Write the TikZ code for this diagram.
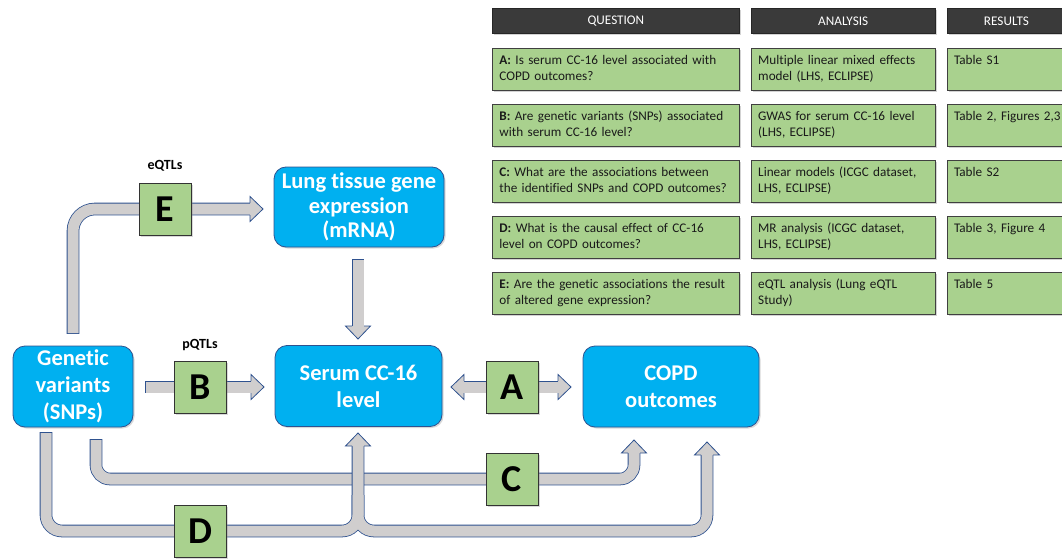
\documentclass[tikz,border=0pt]{standalone}
\usepackage{fontspec}
\setmainfont{Carlito}[Ligatures=NoCommon]
\usetikzlibrary{positioning, calc, shadows, backgrounds}

\definecolor{nodeblue}{HTML}{00B0F0}
\definecolor{edgeblue}{HTML}{2F528F}
\definecolor{cellgreen}{HTML}{A9D18E}
\definecolor{headgray}{HTML}{3A3A3A}
\definecolor{arrowgray}{HTML}{D0CECE}
\definecolor{textdark}{HTML}{1A1A1A}

% block arrow head: base point, direction
\newcommand{\flowhead}[2]{%
  \filldraw[headtip, shift={(#1)}, rotate=#2]
    (0,6) -- (0,12.5) -- (13,0) -- (0,-12.5) -- (0,-6);}

\begin{document}
\begin{tikzpicture}[
  x=1pt, y=-1pt,
  flownode/.style={rectangle, rounded corners=12pt, draw=edgeblue, line width=0.8pt, fill=nodeblue,
    text=white, align=center, inner sep=0pt, font=\fontsize{22.5}{27}\selectfont\bfseries,
    drop shadow={shadow xshift=1.5pt, shadow yshift=-1.5pt, opacity=0.3}},
  letterbox/.style={rectangle, draw=black!80, line width=0.8pt, fill=cellgreen, minimum size=52pt,
    inner sep=0pt, font=\fontsize{38}{40}\selectfont\bfseries,
    drop shadow={shadow xshift=1.5pt, shadow yshift=-1.5pt, opacity=0.3}},
  qtl/.style={font=\fontsize{14}{16}\selectfont\bfseries},
  headcell/.style={rectangle, draw=black!85, line width=0.8pt, fill=headgray, text=white,
    minimum height=25pt, inner sep=0pt, font=\fontsize{13.2}{16.5}\selectfont,
    drop shadow={shadow xshift=2pt, shadow yshift=-2pt, opacity=0.35}},
  cell/.style={rectangle, draw=black!75, line width=0.8pt, fill=cellgreen, text=textdark,
    inner xsep=7pt, inner ysep=0pt, minimum height=42pt, align=left,
    font=\fontsize{13.2}{16.5}\selectfont, execute at begin node=\strut, execute at end node=\strut,
    drop shadow={shadow xshift=2pt, shadow yshift=-2pt, opacity=0.35}},
  qcell/.style={cell, text width=233pt},
  acell/.style={cell, text width=170pt},
  rcell/.style={cell, text width=114pt},
  flowedge/.style={draw=edgeblue, line width=12.6pt, shorten <=-0.8pt},
  flowbody/.style={draw=arrowgray, line width=11pt},
  headtip/.style={fill=arrowgray, draw=edgeblue, line width=0.8pt}
]
\clip (0,0) rectangle (1062,559);

% Table
\node[headcell, anchor=north west, minimum width=247pt] (hQ) at (492,8) {QUESTION};
\node[headcell, right=11pt of hQ, minimum width=184pt] (hA) {ANALYSIS};
\node[headcell, right=11pt of hA, minimum width=119pt] (hR) {RESULTS};

\node[qcell, below=14pt of hQ] (qA) {\textbf{A:} Is serum CC-16 level associated with\\COPD outcomes?};
\node[acell, right=11pt of qA] (aA) {Multiple linear mixed effects\\model (LHS, ECLIPSE)};
\node[rcell, right=11pt of aA] (rA) {Table S1\\};

\node[qcell, below=13.25pt of qA] (qB) {\textbf{B:} Are genetic variants (SNPs) associated\\with serum CC-16 level?};
\node[acell, right=11pt of qB] (aB) {GWAS for serum CC-16 level\\(LHS, ECLIPSE)};
\node[rcell, right=11pt of aB] (rB) {Table 2, Figures 2,3\\};

\node[qcell, below=13.25pt of qB] (qC) {\textbf{C:} What are the associations between\\the identified SNPs and COPD outcomes?};
\node[acell, right=11pt of qC] (aC) {Linear models (ICGC dataset,\\LHS, ECLIPSE)};
\node[rcell, right=11pt of aC] (rC) {Table S2\\};

\node[qcell, below=13.25pt of qC] (qD) {\textbf{D:} What is the causal effect of CC-16\\level on COPD outcomes?};
\node[acell, right=11pt of qD] (aD) {MR analysis (ICGC dataset,\\LHS, ECLIPSE)};
\node[rcell, right=11pt of aD] (rD) {Table 3, Figure 4\\};

\node[qcell, below=13.25pt of qD] (qE) {\textbf{E:} Are the genetic associations the result\\of altered gene expression?};
\node[acell, right=11pt of qE] (aE) {eQTL analysis (Lung eQTL\\Study)};
\node[rcell, right=11pt of aE] (rE) {Table 5\\};

% Flow nodes
\node[flownode, minimum width=120pt, minimum height=81pt] (gen) at (73,386.5) {Genetic\\variants\\(SNPs)};
\node[flownode, minimum width=167pt, minimum height=81pt] (serum) at (358.5,386) {Serum CC-16\\level};
\node[flownode, minimum width=170pt, minimum height=80pt, font=\fontsize{22.5}{24.5}\selectfont\bfseries] (lung) at (359,207) {Lung tissue gene\\expression\\(mRNA)};
\node[flownode, minimum width=176pt, minimum height=81pt] (copd) at (671,386.5) {COPD\\outcomes};

\node[letterbox] (boxE) at (165,209) {E};
\node[letterbox] (boxB) at (200,387) {B};
\node[letterbox] (boxA) at (512,387) {A};
\node[letterbox] (boxC) at (512,479) {C};
\node[letterbox] (boxD) at (200,531) {D};

\node[qtl, above=8pt of boxE] (eqtl) {eQTLs};
\node[qtl, above=6pt of boxB] (pqtl) {pQTLs};

% Arrow ends
\coordinate (eStart) at (73,333);
\coordinate (eEnd) at (250,209);
\coordinate (bStart) at (146,387);
\coordinate (bEnd) at (251,387);
\coordinate (mStart) at (358,260);
\coordinate (mEnd) at (358,326);
\coordinate (aLeft) at (464,387);
\coordinate (aRight) at (558,387);
\coordinate (cStart) at (96,440);
\coordinate (cEnd) at (634,453);
\coordinate (dStart) at (46,433);
\coordinate (dSerum) at (358,446);
\coordinate (dFork) at (358,495);
\coordinate (dCopd) at (707,455);

\begin{scope}[on background layer]
% E: SNPs to mRNA
\draw[flowedge, rounded corners=22pt] (eStart) |- (eEnd);
\draw[flowbody, rounded corners=22pt] (eStart) |- (eEnd);
\flowhead{eEnd}{0}
% B: SNPs to serum level
\draw[flowedge] (bStart) -- (bEnd);
\draw[flowbody] (bStart) -- (bEnd);
\flowhead{bEnd}{0}
% mRNA to serum level
\draw[flowedge] (mStart) -- (mEnd);
\draw[flowbody] (mStart) -- (mEnd);
\flowhead{mEnd}{-90}
% A: serum level and COPD
\draw[flowedge, shorten <=0pt] (aLeft) -- (aRight);
\draw[flowbody] (aLeft) -- (aRight);
\flowhead{aRight}{0}
\flowhead{aLeft}{180}
% C: SNPs to COPD
\draw[flowedge, rounded corners=14pt] (cStart) |- (boxC.center) -| (cEnd);
\draw[flowbody, rounded corners=14pt] (cStart) |- (boxC.center) -| (cEnd);
\flowhead{cEnd}{90}
% D: SNPs to serum level and COPD
\draw[flowedge, rounded corners=16pt] (dStart) |- (boxD.center) -| (dSerum);
\draw[flowedge, shorten <=0pt, rounded corners=16pt] (dFork) |- (boxD.center -| dCopd) -- (dCopd);
\draw[flowbody, rounded corners=16pt] (dStart) |- (boxD.center) -| (dSerum);
\draw[flowbody, rounded corners=16pt] (dFork) |- (boxD.center -| dCopd) -- (dCopd);
\flowhead{dSerum}{90}
\flowhead{dCopd}{90}
\end{scope}
\end{tikzpicture}
\end{document}
